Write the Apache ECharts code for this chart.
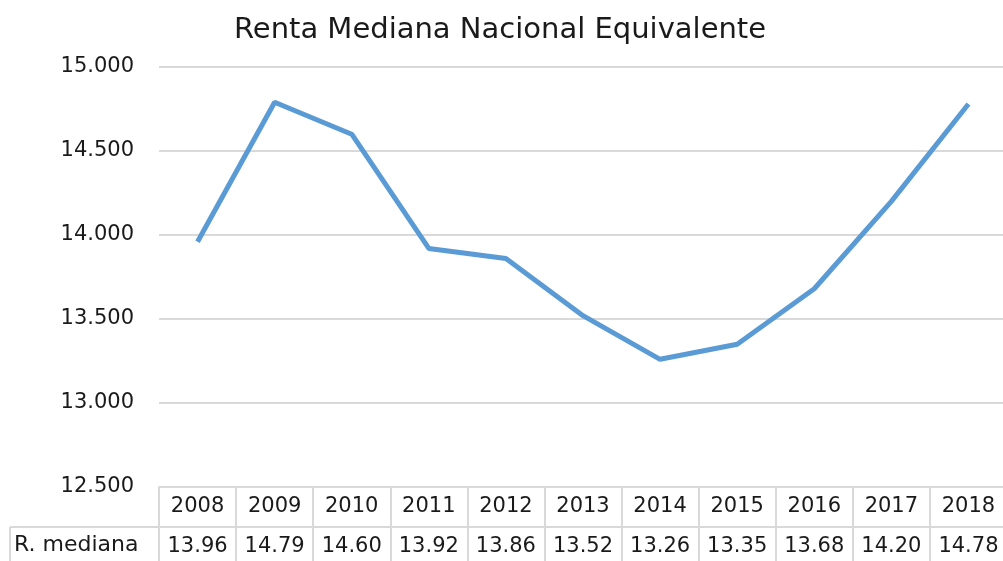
<!DOCTYPE html>
<html>
<head>
<meta charset="utf-8">
<script src="https://cdn.jsdelivr.net/npm/echarts@6/dist/echarts.min.js"></script>
<style>
	html, body { margin: 0; padding: 0; background: #fff; overflow: hidden; }
	#chart { width: 1010px; height: 561px; }
</style>
</head>
<body>
<div id="chart"></div>
<script>
var years = ['2008', '2009', '2010', '2011', '2012', '2013', '2014', '2015', '2016', '2017', '2018'];
var renta = [13960, 14790, 14600, 13920, 13860, 13520, 13260, 13350, 13680, 14200, 14780];
var rowName = 'R. mediana';

var font = '"DejaVu Sans", sans-serif';
var border = '#d9d9d9';
var ink = '#1a1a1a';

function miles(v) {
	return String(v).replace(/\B(?=(\d{3})+(?!\d))/g, '.');
}

// the div is a little wider than the window, so the table's last border falls outside
var option = {
	animation : false,
	title : {
		text : 'Renta Mediana Nacional Equivalente',
		left : 495,
		top : 11,
		textAlign : 'center',
		textStyle : {
			fontFamily : font,
			fontSize : 29,
			fontWeight : 'normal',
			color : ink
		}
	},
	grid : {
		left : 159,
		right : 3,
		top : 67,
		bottom : 74
	},
	xAxis : [ {
		type : 'category',
		data : years,
		boundaryGap : true,
		axisLine : { lineStyle : { color : border, width : 2 } },
		axisTick : { show : true, interval : 0, length : 40, lineStyle : { color : border, width : 2 } },
		axisLabel : {
			interval : 0,
			margin : 9,
			fontFamily : font,
			fontSize : 21,
			color : ink
		}
	}, {
		type : 'category',
		data : years,
		position : 'bottom',
		offset : 40,
		boundaryGap : true,
		axisLine : { lineStyle : { color : border, width : 2 } },
		axisTick : { show : true, interval : 0, length : 40, lineStyle : { color : border, width : 2 } },
		axisLabel : {
			interval : 0,
			margin : 9,
			fontFamily : font,
			fontSize : 21,
			color : ink,
			formatter : function (value, index) {
				return (renta[index] / 1000).toFixed(2);
			}
		}
	} ],
	yAxis : {
		type : 'value',
		min : 12500,
		max : 15000,
		interval : 500,
		axisLine : { show : false },
		axisTick : { show : false },
		splitLine : { lineStyle : { color : border, width : 2 } },
		axisLabel : {
			margin : 25,
			fontFamily : font,
			fontSize : 21,
			color : ink,
			formatter : function (v) { return miles(v); }
		}
	},
	graphic : [ {
		type : 'line',
		shape : { x1 : 10, y1 : 527, x2 : 159, y2 : 527 },
		style : { stroke : border, lineWidth : 2 }
	}, {
		type : 'line',
		shape : { x1 : 10, y1 : 527, x2 : 10, y2 : 561 },
		style : { stroke : border, lineWidth : 2 }
	}, {
		type : 'text',
		left : 14,
		top : 534,
		style : {
			text : rowName,
			fontFamily : font,
			fontSize : 22,
			fill : ink
		}
	} ],
	series : [ {
		name : rowName,
		type : 'line',
		data : renta,
		showSymbol : false,
		lineStyle : { color : '#5b9bd5', width : 5 },
		itemStyle : { color : '#5b9bd5' }
	} ]
};

var myChart = echarts.init(document.getElementById('chart'));
myChart.setOption(option);
</script>
</body>
</html>
